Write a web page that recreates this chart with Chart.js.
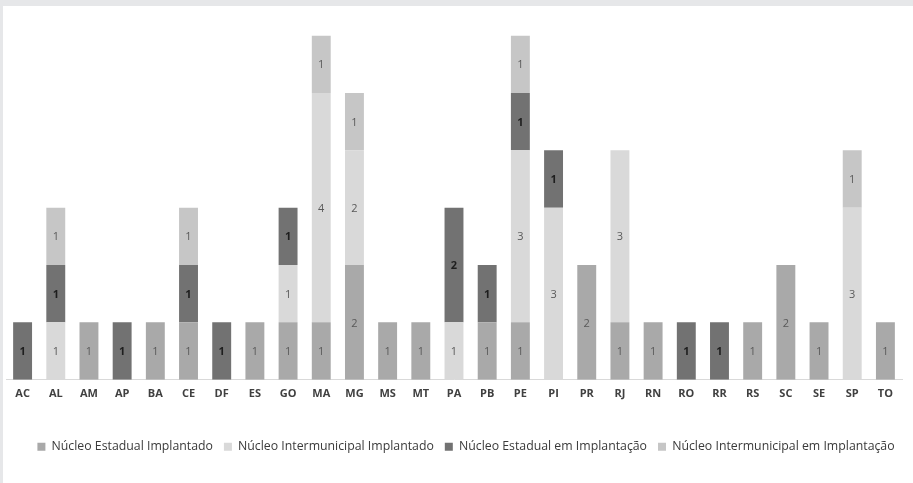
<!DOCTYPE html>
<html>
<head>
<meta charset="utf-8">
<script src="https://cdn.jsdelivr.net/npm/chart.js@4"></script>
<style>
  html, body { margin: 0; padding: 0; background: #ffffff; }
  #moldura {
    position: absolute; left: 0; top: 0;
    width: 910px; height: 477px;
    border-top: 6px solid #e6e7e9;
    border-left: 3px solid #e6e7e9;
    background: #ffffff;
  }
  #grafico { position: absolute; left: 0; top: 0; }
</style>
</head>
<body>
<div id="moldura"></div>
<canvas id="grafico" width="913" height="483"></canvas>
<script>
// ========== dados ==========
const estados = ["AC", "AL", "AM", "AP", "BA", "CE", "DF", "ES", "GO", "MA", "MG", "MS", "MT", "PA",
  "PB", "PE", "PI", "PR", "RJ", "RN", "RO", "RR", "RS", "SC", "SE", "SP", "TO"];

const estadualImplantado =        [0, 0, 1, 0, 1, 1, 0, 1, 1, 1, 2, 1, 1, 0, 1, 1, 0, 2, 1, 1, 0, 0, 1, 2, 1, 0, 1];
const intermunicipalImplantado =  [0, 1, 0, 0, 0, 0, 0, 0, 1, 4, 2, 0, 0, 1, 0, 3, 3, 0, 3, 0, 0, 0, 0, 0, 0, 3, 0];
const estadualEmImplantacao =     [1, 1, 0, 1, 0, 1, 1, 0, 1, 0, 0, 0, 0, 2, 1, 1, 1, 0, 0, 0, 1, 1, 0, 0, 0, 0, 0];
const intermunicipalEmImplantacao = [0, 1, 0, 0, 0, 1, 0, 0, 0, 1, 1, 0, 0, 0, 0, 1, 0, 0, 0, 0, 0, 0, 0, 0, 0, 1, 0];

const nomesSeries = ["Núcleo Estadual Implantado", "Núcleo Intermunicipal Implantado",
  "Núcleo Estadual em Implantação", "Núcleo Intermunicipal em Implantação"];

// ========== rotulos dentro das barras ==========
const rotulosBarras = {
  id: "rotulosBarras",
  afterLayout(chart) {
    // legenda levemente deslocada para a direita, como no original
    chart.legend.left += 12;
    chart.legend.right += 12;
  },
  afterDatasetsDraw(chart) {
    const ctx = chart.ctx;
    ctx.save();
    ctx.textAlign = "center";
    ctx.textBaseline = "middle";
    chart.data.datasets.forEach((ds, i) => {
      const meta = chart.getDatasetMeta(i);
      if (meta.hidden) return;
      meta.data.forEach((barra, j) => {
        const valor = ds.data[j];
        if (!valor) return;
        const escuro = i === 2;
        ctx.font = (escuro ? "bold " : "") + "11px 'Open Sans'";
        ctx.fillStyle = escuro ? "#1e1e1e" : "#595959";
        ctx.fillText(String(valor), barra.x, (barra.y + barra.base) / 2 + 1);
      });
    });
    ctx.restore();
  },
};

const ctx = document.getElementById("grafico").getContext("2d");
let grafico = new Chart(ctx, {
  type: "bar",
  data: {
    labels: estados,
    datasets: [
      { label: nomesSeries[0], data: estadualImplantado, backgroundColor: "#a9a9a9" },
      { label: nomesSeries[1], data: intermunicipalImplantado, backgroundColor: "#d9d9d9" },
      { label: nomesSeries[2], data: estadualEmImplantacao, backgroundColor: "#727272" },
      { label: nomesSeries[3], data: intermunicipalEmImplantacao, backgroundColor: "#c6c6c6" },
    ],
  },
  options: {
    responsive: false,
    animation: false,
    datasets: {
      bar: { categoryPercentage: 1, barPercentage: 0.57 },
    },
    layout: { padding: { left: 6, right: 11, top: 7, bottom: 20 } },
    scales: {
      x: {
        stacked: true,
        grid: { display: false, drawTicks: false },
        border: { display: true, color: "#d9d9d9", width: 1 },
        ticks: {
          color: "#404040",
          font: { family: "'Open Sans'", size: 11, weight: "bold" },
          padding: 8,
          maxRotation: 0,
          autoSkip: false,
        },
        afterFit(escala) {
          escala.height = 50;
        },
      },
      y: {
        stacked: true,
        display: false,
        min: 0,
        max: 6.5,
      },
    },
    plugins: {
      legend: {
        position: "bottom",
        labels: {
          boxWidth: 8,
          boxHeight: 8,
          color: "#3a3a3a",
          font: { family: "'Open Sans'", size: 12.3 },
          padding: 11,
        },
      },
      tooltip: { enabled: false },
    },
  },
  plugins: [rotulosBarras],
});
</script>
</body>
</html>
